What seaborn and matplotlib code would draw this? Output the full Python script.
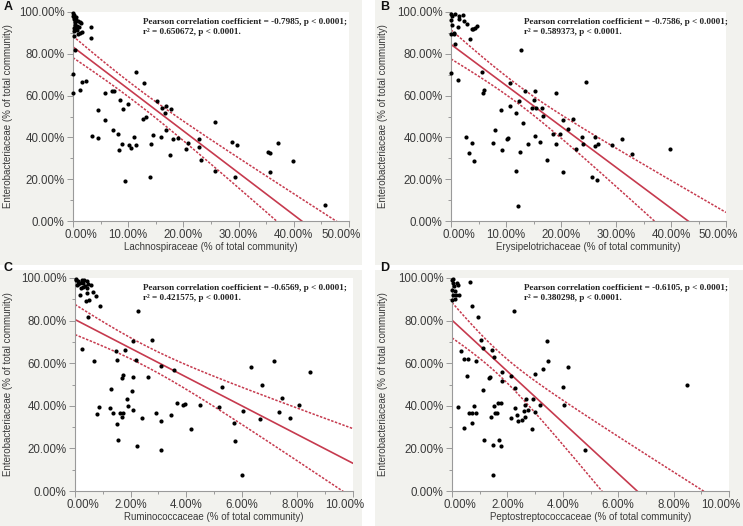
import numpy as np
import matplotlib
matplotlib.use('Agg')
import matplotlib.pyplot as plt
import matplotlib.transforms as mtransforms
from matplotlib.patches import Rectangle
from matplotlib.ticker import PercentFormatter, MultipleLocator
import seaborn as sns

# values, both axes in % of total community
a_x = [0.0, 0.1, 0.2, 0.4, 0.6, 0.9, 1.2, 1.4, 0.3, 0.7, 1.0, 0.5, 0.2, 1.3, 1.6, 0.9, 0.1,
       0.0, 0.1, 0.3, 0.5, 0.2, 0.8,
       3.2, 3.3, 0.4, 0.0, 0.0, 1.2, 1.7, 2.3, 3.5, 4.6, 4.5, 5.8, 5.8, 7.0, 7.5, 7.3, 8.1,
       8.4, 8.6, 8.8, 9.1, 9.5, 9.9, 10.1, 10.5, 11.1, 11.5, 11.5, 12.6, 12.8, 13.3, 13.9,
       14.1, 14.5, 15.2, 16.0, 16.1, 16.7, 16.8, 16.8, 17.6, 17.8, 18.2, 19.0, 20.5, 20.8,
       22.8, 22.9, 23.2, 25.8, 25.8, 28.8, 29.4, 29.8, 35.3, 35.6, 35.7, 37.2, 39.8, 45.6]
a_y = [99.5, 98.5, 97.6, 96.8, 96.0, 95.5, 95.2, 94.8, 94.0, 93.5, 92.8, 92.0, 91.0, 90.0, 90.2, 89.5, 88.5,
       98.0, 96.5, 95.0, 97.8, 92.5, 91.5,
       92.7, 87.4, 81.7, 70.5, 61.2, 62.8, 66.5, 67.0, 40.5, 53.0, 39.9, 61.2, 48.5, 62.0, 62.0, 43.7, 41.5,
       34.1, 58.0, 37.0, 53.7, 19.1, 55.8, 36.5, 34.8, 40.2, 71.3, 36.5, 49.0, 66.0, 49.8, 21.0,
       36.7, 41.1, 57.4, 40.2, 54.2, 51.7, 54.9, 43.7, 31.7, 53.7, 39.2, 39.9, 34.6, 37.3,
       39.1, 35.4, 29.3, 47.4, 23.9, 37.8, 21.0, 36.5, 32.9, 32.4, 23.4, 37.3, 28.7, 7.5]

b_x = [0.0, 0.2, 0.0, 0.2, 0.0, 0.5, 0.8, 1.5, 1.5, 1.25, 2.1, 2.4, 2.9, 3.8, 4.0, 4.3, 4.8, 3.5,
       0.8, 1.25, 0.0, 0.6, 12.7, 5.7, 5.8, 6.0, 10.7, 10.8, 9.0, 10.3, 10.1, 8.0, 7.6, 9.2, 2.7,
       3.75, 3.3, 4.2, 11.9, 12.3, 13.0, 12.6, 11.8, 12.2, 13.4, 14.0, 14.8, 15.2, 15.1, 15.5,
       15.2, 16.2, 16.5, 16.8, 17.4, 18.6, 19.0, 19.0, 19.9, 20.3, 20.3, 21.3, 22.2, 22.8, 23.8,
       24.0, 24.5, 26.1, 26.1, 25.6, 26.5, 26.8, 29.2, 31.1, 32.9, 39.9]
b_y = [99.2, 98.0, 96.0, 93.6, 89.6, 89.6, 99.2, 98.0, 96.8, 92.8, 98.4, 95.7, 94.1, 92.0, 92.0, 92.5, 93.1, 86.9,
       84.8, 67.3, 70.8, 90.0, 82.0, 71.3, 61.2, 62.8, 66.0, 54.9, 53.0, 39.7, 39.2, 43.7, 37.3, 34.1, 40.2,
       37.3, 32.5, 28.9, 51.7, 57.4, 46.9, 33.0, 23.9, 7.2, 62.2, 36.7, 54.2, 62.2, 57.7, 54.2,
       40.5, 37.8, 54.2, 50.1, 29.3, 41.5, 61.2, 36.7, 41.5, 48.5, 23.4, 43.9, 49.0, 34.6, 40.2,
       36.7, 66.5, 40.2, 35.7, 21.0, 19.5, 37.0, 36.5, 39.4, 31.9, 34.6]

c_x = [0.04, 0.12, 0.18, 0.08, 0.24, 0.3, 0.36, 0.28, 0.42, 0.48, 0.44, 0.56, 0.44, 0.63, 0.75,
       0.02, 0.1, 0.2, 0.33,
       0.18, 0.38, 0.51, 0.9, 0.48, 0.24, 0.68, 0.87, 0.8, 1.26, 1.29, 1.38, 1.46, 1.5, 1.5, 1.54,
       1.62, 1.69, 1.71, 1.68, 1.71, 1.8, 1.88, 1.92, 2.06, 2.07, 2.1, 2.07, 2.19, 2.22, 2.28, 2.4,
       2.63, 2.78, 2.91, 3.08, 3.1, 3.11, 3.44, 3.57, 3.68, 3.87, 3.96, 4.19, 4.49, 5.17, 5.29,
       5.72, 5.77, 6.02, 6.05, 6.32, 6.65, 6.73, 7.15, 7.34, 7.46, 7.75, 8.07, 8.47]
c_y = [99.2, 98.4, 97.7, 96.9, 98.9, 97.7, 96.4, 95.8, 98.4, 97.3, 95.3, 96.9, 93.0, 93.4, 91.7,
       99.6, 97.0, 95.5, 99.0,
       92.2, 89.0, 89.5, 86.7, 81.7, 66.7, 60.9, 39.4, 36.3, 39.1, 48.1, 36.7, 65.6, 61.7, 31.6, 23.9,
       36.4, 34.7, 36.4, 53.1, 54.4, 66.1, 43.3, 39.8, 46.9, 70.3, 53.4, 37.8, 61.7, 21.1, 84.4, 34.4,
       53.4, 70.8, 36.4, 32.8, 19.2, 58.6, 35.5, 57.0, 41.4, 40.6, 40.9, 28.9, 40.2, 39.5, 48.8,
       32.0, 23.4, 7.5, 37.5, 58.1, 33.6, 49.7, 60.9, 37.0, 43.8, 34.4, 40.2, 55.8]

d_x = [0.0, 0.02, 0.06, 0.0, 0.1, 0.02, 0.0, 0.1, 0.18, 0.21, 0.14, 0.26, 0.05, 0.65, 0.71, 0.95,
       0.33, 0.42, 0.56, 0.54, 0.21, 0.42, 0.62, 0.71, 0.71, 0.8, 0.86, 0.87, 1.05, 1.13, 1.13, 1.17,
       1.33, 1.37, 1.39, 1.43, 1.49, 1.5, 1.52, 1.55, 1.61, 1.49, 1.67, 1.69, 1.76, 1.79, 1.79, 1.76,
       2.12, 2.14, 2.23, 2.26, 2.29, 2.36, 2.38, 2.54, 2.6, 2.62, 2.64, 2.68, 2.74, 2.89, 2.92, 2.98,
       2.98, 3.19, 3.27, 3.42, 3.45, 4.01, 4.05, 4.17, 4.79, 8.48]
d_y = [99.2, 97.7, 96.1, 94.5, 93.8, 92.2, 89.8, 90.2, 97.7, 96.9, 92.2, 92.2, 99.5, 98.1, 86.7, 81.7,
       65.9, 62.0, 62.0, 54.2, 39.4, 29.4, 36.4, 36.4, 31.7, 39.8, 36.7, 60.9, 71.1, 67.2, 47.2, 23.9,
       53.1, 53.6, 34.8, 66.4, 21.4, 39.8, 63.0, 36.4, 36.7, 7.5, 41.4, 23.8, 41.4, 51.6, 55.8, 21.1,
       34.4, 53.9, 84.4, 48.4, 39.1, 35.6, 32.8, 33.1, 37.5, 34.7, 40.6, 43.4, 37.8, 28.9, 43.4, 54.7,
       37.2, 40.2, 57.3, 70.3, 60.9, 48.9, 40.6, 58.1, 19.2, 49.7]

letters = ['A', 'B', 'C', 'D']
x_names = ['Lachnospiraceae', 'Erysipelotrichaceae', 'Ruminococcaceae', 'Peptostreptococcaceae']
x_max = [50, 50, 10, 10]
pearson = ['-0.7985', '-0.7586', '-0.6569', '-0.6105']
r_sq = ['0.650672', '0.589373', '0.421575', '0.380298']
# fitted lines as drawn in the figure (intercept, slope)
fit_icpt = [83.3, 84.5, 80.5, 80.2]
fit_slope = [-2.01, -1.96, -6.75, -12.0]

sns.set_theme(style='white')
plt.rcParams['font.family'] = ['Liberation Sans', 'DejaVu Sans']

W, H = 743, 526
fig = plt.figure(figsize=(W / 100, H / 100), dpi=100, facecolor='white')

# panel boxes (px): x0, y0, x1, y1 ; axes boxes (px)
panels = [(0, 0, 362, 265), (375, 0, 743, 265), (0, 270, 362, 526), (375, 270, 743, 526)]
axboxes = [(73, 12, 349, 221), (451, 12, 726, 221), (75, 278, 353, 491), (452, 278, 729, 491)]
red = '#c63a4e'

for i, (xs, ys) in enumerate([(a_x, a_y), (b_x, b_y), (c_x, c_y), (d_x, d_y)]):
    px0, py0, px1, py1 = panels[i]
    fig.patches.append(Rectangle((px0 / W, 1 - py1 / H), (px1 - px0) / W, (py1 - py0) / H,
                                 transform=fig.transFigure, facecolor='#f2f2ee', edgecolor='none', zorder=-10))
    x0, y0, x1, y1 = axboxes[i]
    ax = fig.add_axes([x0 / W, 1 - y1 / H, (x1 - x0) / W, (y1 - y0) / H])
    ax.set_facecolor('white')

    xs = np.array(xs)
    ys = np.array(ys)
    sns.scatterplot(x=xs, y=ys, ax=ax, color='black', s=9, linewidth=0, clip_on=False, zorder=3)

    # fit line + 95% confidence band of the mean (width from the scatter)
    n = len(xs)
    resid = ys - (fit_icpt[i] + fit_slope[i] * xs)
    s = np.sqrt(np.sum(resid ** 2) / (n - 2))
    grid = np.linspace(0, x_max[i], 200)
    fit = fit_icpt[i] + fit_slope[i] * grid
    half = 1.99 * s * np.sqrt(1 / n + (grid - xs.mean()) ** 2 / np.sum((xs - xs.mean()) ** 2))
    ax.plot(grid, fit, color=red, lw=1.2, zorder=2)
    ax.plot(grid, fit + half, color=red, lw=1.1, ls=(0, (1.6, 1.0)), zorder=2)
    ax.plot(grid, fit - half, color=red, lw=1.1, ls=(0, (1.6, 1.0)), zorder=2)

    ax.set_xlim(0, x_max[i])
    ax.set_ylim(0, 100)
    ax.set_xticks(np.linspace(0, x_max[i], 6))
    ax.xaxis.set_minor_locator(MultipleLocator(x_max[i] / 10))
    ax.set_yticks(np.linspace(0, 100, 6))
    ax.yaxis.set_minor_locator(MultipleLocator(10))
    ax.xaxis.set_major_formatter(PercentFormatter(100, decimals=2))
    ax.yaxis.set_major_formatter(PercentFormatter(100, decimals=2))
    for sp in ['top', 'right']:
        ax.spines[sp].set_visible(False)
    for sp in ['left', 'bottom']:
        ax.spines[sp].set_color('#9a9a9a')
        ax.spines[sp].set_linewidth(0.8)
    ax.tick_params(which='major', direction='out', length=4, width=0.7, color='#9a9a9a',
                   labelsize=8.3, labelcolor='#3a3a3a', pad=2,
                   bottom=True, left=True)
    ax.tick_params(which='minor', direction='out', length=2.5, width=0.7, color='#9a9a9a',
                   bottom=True, left=True)
    # end labels nudged inward like the original
    tl = ax.get_xticklabels()
    tl[0].set_transform(tl[0].get_transform() + mtransforms.ScaledTranslation(8 / 100, 0, fig.dpi_scale_trans))
    tl[-1].set_transform(tl[-1].get_transform() + mtransforms.ScaledTranslation(-8 / 100, 0, fig.dpi_scale_trans))

    ax.set_xlabel(x_names[i] + ' (% of total community)', fontsize=7, color='#3a3a3a')
    ax.set_ylabel('Enterobacteriaceae (% of total community)', fontsize=7, color='#3a3a3a')
    ax.xaxis.set_label_coords(0.5, -(242 - y1) / (y1 - y0) if i < 2 else -(512 - y1) / (y1 - y0))
    ax.yaxis.set_label_coords(-(x0 - px0 - 13) / (x1 - x0), 0.5)

    tx = 143 if i % 2 == 0 else 524
    ty = py0 + 22 if i < 2 else py0 + 18
    fig.text(tx / W, 1 - ty / H, 'Pearson correlation coefficient = ' + pearson[i] + ', p < 0.0001;',
             fontsize=6.6, fontweight='bold', family=['Liberation Serif'], color='#222222', va='center')
    fig.text(tx / W, 1 - (ty + 10) / H, 'r\u00b2 = ' + r_sq[i] + ', p < 0.0001.',
             fontsize=6.6, fontweight='bold', family=['Liberation Serif'], color='#222222', va='center')

    lx = 8 if i % 2 == 0 else 385
    ly = 7 if i < 2 else 268
    fig.text(lx / W, 1 - ly / H, letters[i], fontsize=9, fontweight='bold', color='#111111',
             ha='center', va='center')

fig.savefig('out.png', dpi=100, facecolor='white')
